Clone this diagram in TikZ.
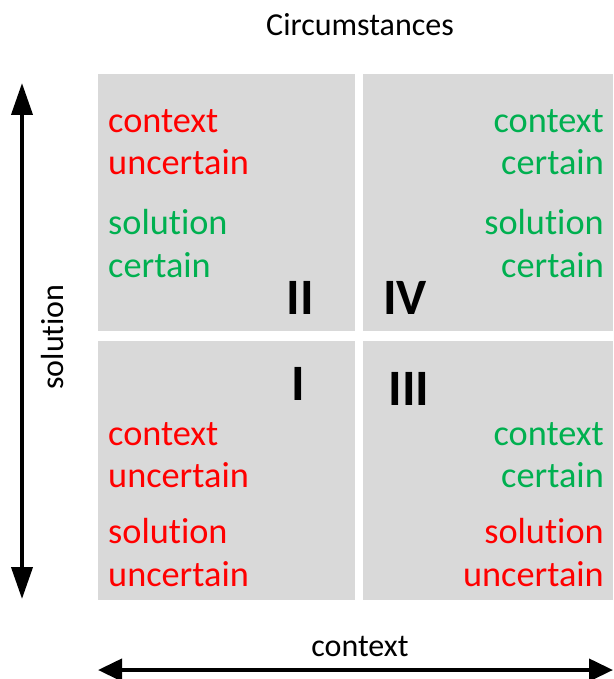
\documentclass[tikz,border=0pt]{standalone}
\usepackage{fontspec}
\setmainfont[Ligatures=NoCommon]{Carlito}
\usetikzlibrary{arrows.meta}
\definecolor{cellgray}{HTML}{D9D9D9}
\definecolor{okgreen}{HTML}{00B050}
\definecolor{badred}{HTML}{FF0000}
\tikzset{
  cell/.style={fill=cellgray, draw=none, inner sep=0pt},
  lbl/.style={font=\fontsize{36.3}{43}\selectfont, inner sep=0pt},
  lft/.style={lbl, anchor=base west},
  rgt/.style={lbl, anchor=base east},
  axislabel/.style={font=\fontsize{32}{38}\selectfont, inner sep=0pt, anchor=base},
  numeral/.style={font=\fontsize{51}{60}\selectfont\bfseries, inner sep=0pt, anchor=base},
  axis/.style={line width=4pt},
  vhead/.style={-{Triangle[length=32pt,width=21pt]}},
  hhead/.style={-{Triangle[length=24pt,width=22pt]}},
}
\begin{document}
\begin{tikzpicture}[x=1pt,y=-1pt]
  \useasboundingbox (0,0) rectangle (613,679);

  % quadrants
  \node[cell, minimum width=257pt, minimum height=257pt] (q2) at (226.5,202.5) {};
  \node[cell, minimum width=250pt, minimum height=257pt] (q4) at (488,202.5) {};
  \node[cell, minimum width=257pt, minimum height=259pt] (q1) at (226.5,470.5) {};
  \node[cell, minimum width=250pt, minimum height=259pt] (q3) at (488,470.5) {};

  % titles
  \node[axislabel] (title) at (360,36) {Circumstances};
  \node[axislabel, rotate=90] (ylab) at (63,337) {solution};
  \node[axislabel] (xlab) at (360,656) {context};

  % quadrant II
  \node[lft, text=badred] (q2a) at (108,133) {context};
  \node[lft, text=badred] (q2b) at (108,175) {uncertain};
  \node[lft, text=okgreen] (q2c) at (108,234) {solution};
  \node[lft, text=okgreen] (q2d) at (108,277) {certain};
  \node[numeral] (n2) at (300,314) {II};

  % quadrant IV
  \node[rgt, text=okgreen] (q4a) at (604,133) {context};
  \node[rgt, text=okgreen] (q4b) at (604,175) {certain};
  \node[rgt, text=okgreen] (q4c) at (604,234) {solution};
  \node[rgt, text=okgreen] (q4d) at (604,277) {certain};
  \node[numeral] (n4) at (405,314) {IV};

  % quadrant I
  \node[lft, text=badred] (q1a) at (108,445) {context};
  \node[lft, text=badred] (q1b) at (108,487) {uncertain};
  \node[lft, text=badred] (q1c) at (108,543) {solution};
  \node[lft, text=badred] (q1d) at (108,586) {uncertain};
  \node[numeral] (n1) at (298,400) {I};

  % quadrant III
  \node[rgt, text=okgreen] (q3a) at (604,445) {context};
  \node[rgt, text=okgreen] (q3b) at (604,487) {certain};
  \node[rgt, text=badred] (q3c) at (604,543) {solution};
  \node[rgt, text=badred] (q3d) at (604,586) {uncertain};
  \node[numeral] (n3) at (409,405) {III};

  % axes, drawn from their midpoints out to both tips
  \coordinate (ytop) at (22,83);
  \coordinate (ybot) at (22,599);
  \coordinate (ymid) at (22,341);
  \coordinate (xleft) at (98,670);
  \coordinate (xright) at (613,670);
  \coordinate (xmid) at (355,670);
  \draw[axis, vhead] (ymid) -- (ytop);
  \draw[axis, vhead] (ymid) -- (ybot);
  \draw[axis, hhead] (xmid) -- (xleft);
  \draw[axis, hhead] (xmid) -- (xright);
\end{tikzpicture}
\end{document}
